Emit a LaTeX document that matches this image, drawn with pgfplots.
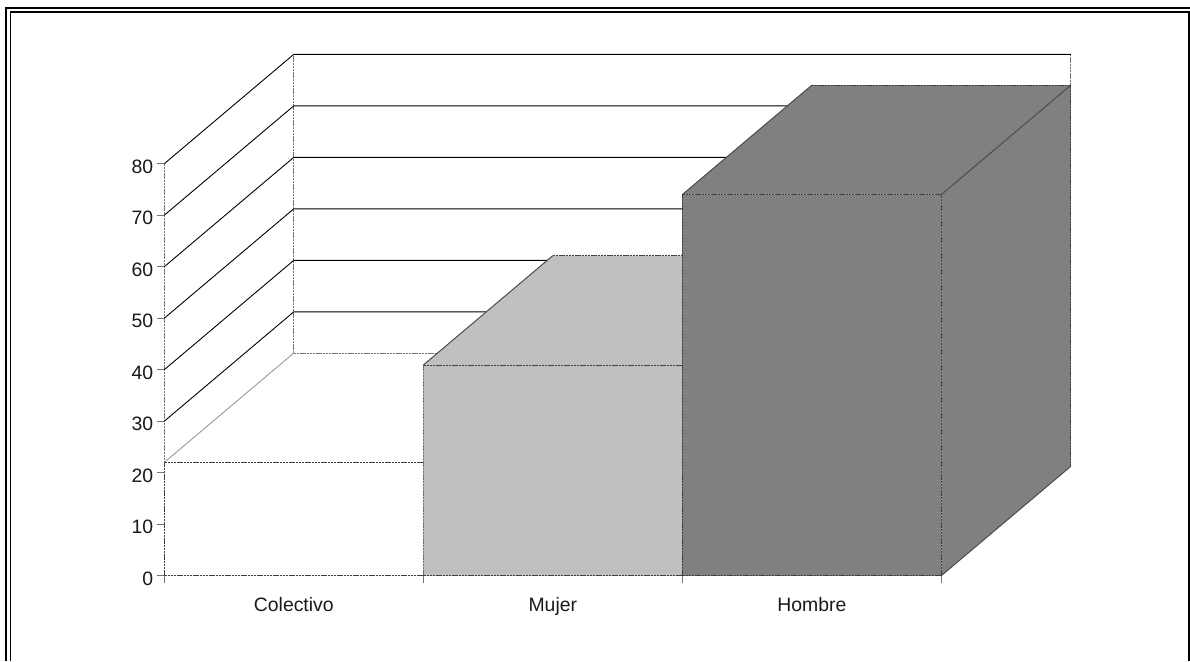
\documentclass[border=0pt]{standalone}
\usepackage{fontspec}
\setmainfont{Liberation Sans}
\usepackage{pgfplots}
\pgfplotsset{compat=1.18}
\definecolor{edgec}{gray}{0.25}
\definecolor{wallc}{gray}{0.45}
\definecolor{mujerc}{HTML}{C0C0C0}
\definecolor{hombrec}{HTML}{808080}
\begin{document}
\begin{tikzpicture}[x=1pt,y=1pt]
\useasboundingbox (0,0) rectangle (1190,661);
\begin{axis}[
  at={(164.3pt,85.3pt)}, anchor=south west,
  scale only axis, width=777pt, height=412pt,
  xmin=0, xmax=3, ymin=0, ymax=80,
  clip=false,
  axis x line=bottom, axis y line=left,
  axis line style={-, draw=wallc, line width=1pt, dash pattern=on 2.4pt off 0.8pt},
  tick align=outside,
  major tick length=7.5pt,
  tick style={draw=wallc, line width=1pt},
  xtick={0,1,2,3}, xticklabels={},
  extra x ticks={0.5,1.5,2.5},
  extra x tick labels={Colectivo,Mujer,Hombre},
  extra x tick style={major tick length=0pt, tick style={draw=none},
    xticklabel style={yshift=-18pt}},
  ytick={0,10,20,30,40,50,60,70,80},
  yticklabel style={yshift=-3pt, xshift=0pt},
  /pgf/number format/assume math mode=true,
  tick label style={font=\fontsize{19.4}{23}\selectfont, text=black!90},
  every axis plot/.append style={no marks},
  wall/.style={draw=black, line width=0.9pt},
  dsh/.style={draw=edgec, line width=1pt, dash pattern=on 2.4pt off 0.8pt},
  dshl/.style={draw=wallc, line width=1pt, dash pattern=on 2.4pt off 0.8pt},
  diag/.style={draw=black!70, line width=1pt},
]
% back wall verticals
\addplot[dshl] coordinates {(0.5,43.24) (0.5,101.24)};
\addplot[dshl] coordinates {(3.5,95.24) (3.5,101.24)};
% gridlines: left wall and back wall
\addplot[wall] coordinates {(0,30) (0.5,51.24) (3.5,51.24)};
\addplot[wall] coordinates {(0,40) (0.5,61.24) (3.5,61.24)};
\addplot[wall] coordinates {(0,50) (0.5,71.24) (3.5,71.24)};
\addplot[wall] coordinates {(0,60) (0.5,81.24) (3.5,81.24)};
\addplot[wall] coordinates {(0,70) (0.5,91.24) (3.5,91.24)};
\addplot[wall] coordinates {(0,80) (0.5,101.24) (3.5,101.24)};
% Colectivo
\addplot[fill=white, draw=none] coordinates {(0,22) (1,22) (1.5,43.24) (0.5,43.24)} --cycle;
\addplot[fill=white, draw=none] coordinates {(0,0) (0,22) (1,22) (1,0)} --cycle;
\addplot[draw=black!40, line width=0.9pt] coordinates {(0,22) (0.5,43.24)};
\addplot[dshl] coordinates {(0.5,43.24) (1.5,43.24)};
\addplot[dsh] coordinates {(0,22) (1,22)};
\addplot[dsh] coordinates {(0,0) (1,0)};
\addplot[dsh] coordinates {(0,0) (0,22)};
% Mujer
\addplot[fill=mujerc, draw=none] coordinates {(1,40.9) (2,40.9) (2.5,62.14) (1.5,62.14)} --cycle;
\addplot[fill=mujerc, draw=none] coordinates {(1,0) (1,40.9) (2,40.9) (2,0)} --cycle;
\addplot[diag] coordinates {(1,40.9) (1.5,62.14)};
\addplot[dsh] coordinates {(1.5,62.14) (2.5,62.14)};
\addplot[dsh] coordinates {(1,40.9) (2,40.9)};
\addplot[dshl] coordinates {(1,0) (1,40.9)};
\addplot[dsh] coordinates {(1,0) (2,0)};
% Hombre
\addplot[fill=hombrec, draw=none] coordinates {(2,74) (3,74) (3.5,95.24) (2.5,95.24)} --cycle;
\addplot[fill=hombrec, draw=none] coordinates {(3,0) (3,74) (3.5,95.24) (3.5,21.24)} --cycle;
\addplot[fill=hombrec, draw=none] coordinates {(2,0) (2,74) (3,74) (3,0)} --cycle;
\addplot[diag] coordinates {(2,74) (2.5,95.24)};
\addplot[dsh] coordinates {(2.5,95.24) (3.5,95.24)};
\addplot[dsh] coordinates {(2,74) (3,74)};
\addplot[dsh] coordinates {(2,0) (2,74)};
\addplot[dsh] coordinates {(3,0) (3,74)};
\addplot[dsh] coordinates {(2,0) (3,0)};
\addplot[diag] coordinates {(3,74) (3.5,95.24)};
\addplot[diag] coordinates {(3,0) (3.5,21.24)};
\addplot[dsh] coordinates {(3.5,21.24) (3.5,95.24)};
\end{axis}
% outer double frame
\draw[line width=2pt, black] (6,0) -- (6,653) -- (1190,653);
\draw[line width=1.6pt, black] (10.5,0) -- (10.5,649) -- (1189,649) -- (1189,0);
\end{tikzpicture}
\end{document}
